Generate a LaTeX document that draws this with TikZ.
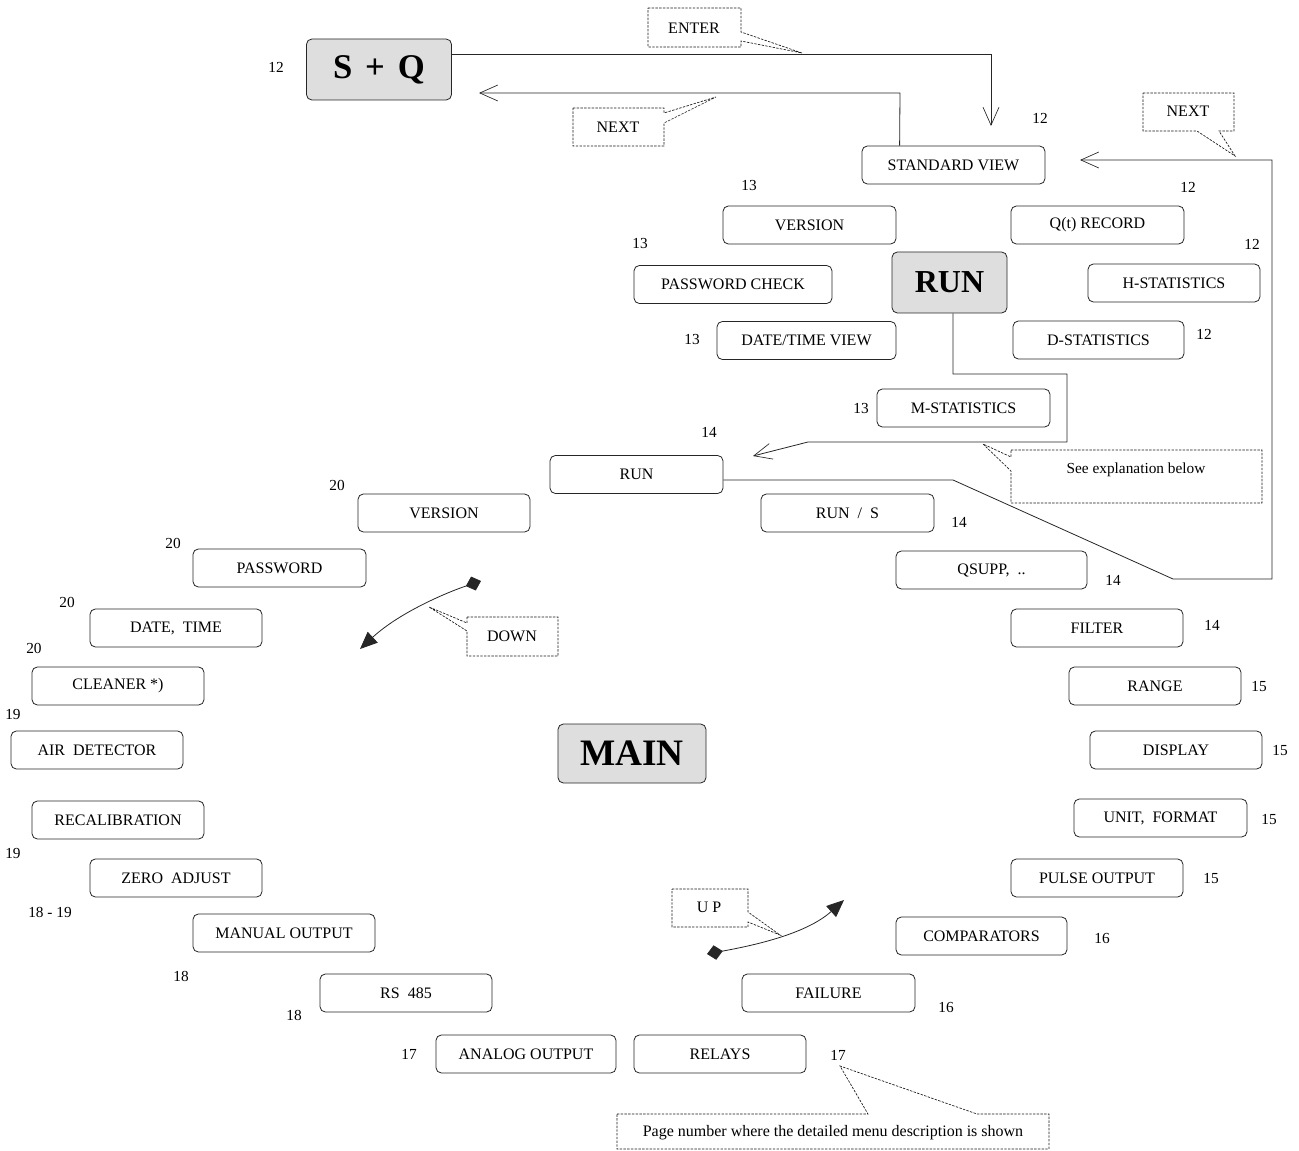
\documentclass[tikz,border=0pt]{standalone}
\usepackage{fontspec}
\setmainfont{Liberation Serif}
\usetikzlibrary{arrows.meta}
\begin{document}
\begin{tikzpicture}[x=0.75pt,y=-0.75pt,
  box/.style={draw=black!85, line width=0.6pt, rounded corners=4pt, minimum height=28.5pt, font=\fontsize{12}{14}\selectfont, inner sep=0pt},
  gbox/.style={box, fill=black!13, font=\fontsize{24}{28}\selectfont\bfseries, minimum height=45.75pt},
  w/.style={minimum width=#1*0.75pt},
  num/.style={font=\fontsize{11.5}{13}\selectfont, inner sep=0pt},
  note/.style={font=\fontsize{12}{14}\selectfont, inner sep=0pt},
  conn/.style={draw=black!85, line width=0.6pt},
  callout/.style={draw=black!90, line width=0.5pt, dash pattern=on 1.8pt off 1pt},
  barb/.style={-{Straight Barb[length=13.5pt,width=12pt,line width=0.5pt]}},
  swing/.style={conn, {Diamond[length=12pt,width=11pt]}-{Triangle[length=13pt,width=11pt]}}
]
\useasboundingbox (0,0) rectangle (1299,1151);

% gray main nodes
\node[gbox, w=145, font=\fontsize{26}{30}\selectfont\bfseries] (SQ) at (379,69.5) {S\hspace{0.12em} + \hspace{0.12em}Q};
\node[gbox, w=115] (RUNG) at (949.5,282.5) {RUN};
\node[gbox, w=148, minimum height=44.25pt, font=\fontsize{28}{32}\selectfont\bfseries] (MAIN) at (632,753.5) {MAIN};

% boxes
\node[box, w=183] (STD) at (953.5,165) {STANDARD VIEW};
\node[box, w=173] (VER1) at (809.5,225) {VERSION};
\node[box, w=173] (QREC) at (1097.5,225) {Q(t) RECORD};
\node[box, w=198] (PWC) at (733,284.5) {PASSWORD CHECK};
\node[box, w=172] (HSTAT) at (1174,283) {H-STATISTICS};
\node[box, w=179] (DTV) at (806.5,340.5) {DATE/TIME VIEW};
\node[box, w=171] (DSTAT) at (1098.5,340) {D-STATISTICS};
\node[box, w=173] (MSTAT) at (963.5,408) {M-STATISTICS};
\node[box, w=173] (RUN) at (636.5,474.5) {RUN};
\node[box, w=172] (VER2) at (444,513) {VERSION};
\node[box, w=173] (RUNS) at (847.5,513) {RUN~~/~~S};
\node[box, w=173] (PW) at (279.5,568) {PASSWORD};
\node[box, w=191] (QSUPP) at (991.5,570) {QSUPP,~~..};
\node[box, w=172] (DT) at (176,628) {DATE,~~TIME};
\node[box, w=172] (FILTER) at (1097,628) {FILTER};
\node[box, w=172] (CLEAN) at (118,686) {CLEANER *)};
\node[box, w=172] (RANGE) at (1155,686) {RANGE};
\node[box, w=172] (AIR) at (97,750) {AIR~~DETECTOR};
\node[box, w=172] (DISP) at (1176,750) {DISPLAY};
\node[box, w=172] (RECAL) at (118,820) {RECALIBRATION};
\node[box, w=173] (UNIT) at (1160.5,818) {UNIT,~~FORMAT};
\node[box, w=172] (ZERO) at (176,878) {ZERO~~ADJUST};
\node[box, w=172] (PULSE) at (1097,878) {PULSE OUTPUT};
\node[box, w=182] (MAN) at (284,933) {MANUAL OUTPUT};
\node[box, w=171] (COMP) at (981.5,936) {COMPARATORS};
\node[box, w=173] (FAIL) at (828.5,993) {FAILURE};
\node[box, w=172] (RS) at (406,993) {RS~~485};
\node[box, w=180] (ANA) at (526,1054) {ANALOG OUTPUT};
\node[box, w=172] (REL) at (720,1054) {RELAYS};

% page numbers
\node[num] (p1) at (276,67) {12};
\node[num] (p2) at (1040,118) {12};
\node[num] (p3) at (1188,187) {12};
\node[num] (p4) at (749,186) {13};
\node[num] (p5) at (640,244) {13};
\node[num] (p6) at (1252,244) {12};
\node[num] (p7) at (692,340) {13};
\node[num] (p8) at (1204,334) {12};
\node[num] (p9) at (861,408) {13};
\node[num] (p10) at (709,432) {14};
\node[num] (p11) at (337,485) {20};
\node[num] (p12) at (959,522) {14};
\node[num] (p13) at (173,543) {20};
\node[num] (p14) at (1113,580) {14};
\node[num] (p15) at (67,602) {20};
\node[num] (p16) at (1212,625) {14};
\node[num] (p17) at (34,648) {20};
\node[num] (p18) at (1259,687) {15};
\node[num] (p19) at (13,714) {19};
\node[num] (p20) at (1280,751) {15};
\node[num] (p21) at (1269,820) {15};
\node[num] (p22) at (13,853) {19};
\node[num] (p23) at (1211,879) {15};
\node[num] (p24) at (50,912) {18 - 19};
\node[num] (p25) at (1102,938) {16};
\node[num] (p26) at (181,976) {18};
\node[num] (p27) at (946,1007) {16};
\node[num] (p28) at (294,1015) {18};
\node[num] (p29) at (409,1054) {17};
\node[num] (p30) at (838,1055) {17};

% connector end points
\coordinate (enterTip) at (991,126);
\coordinate (nextTip) at (479,93);
\coordinate (runTip) at (753,456);
\coordinate (stdTip) at (1080,160);

% connectors
\draw[conn, barb] (SQ.east) ++(0,-15.5) -- (991,54) -- (enterTip);
\draw[conn, barb] (STD.north west) ++(38,0) -- (900,93) -- (nextTip);
\draw[conn, barb] (RUNG.south) ++(3.5,0) -- (953,374) -- (1067,374) -- (1067,442) -- (808,442) -- (runTip);
\draw[conn, barb] (RUN.east) ++(0,5.5) -- (953,480) -- (1173,579) -- (1272,579) -- (1272,160) -- (stdTip);

% swing arrows
\coordinate (downA) at (481,581);
\coordinate (downB) at (360,649);
\draw[swing] (downA) .. controls (448,592) and (400,612) .. (downB);
\coordinate (upA) at (707,954);
\coordinate (upB) at (844,900);
\draw[swing] (upA) .. controls (750,946) and (805,935) .. (upB);

% callouts
\draw[callout] (648,8) -- (741,8) -- (741,32) -- (802,53) -- (741,41) -- (741,47) -- (648,47) -- cycle;
\node[note] (enter) at (694,28) {ENTER};
\draw[callout] (573,108) -- (664,108) -- (664,113) -- (716,97) -- (664,123) -- (664,146) -- (573,146) -- cycle;
\node[note] (next1) at (618,127) {NEXT};
\draw[callout] (1143,93) -- (1234,93) -- (1234,131) -- (1219,131) -- (1235,156) -- (1197,131) -- (1143,131) -- cycle;
\node[note] (next2) at (1188,111) {NEXT};
\draw[callout] (1011,450) -- (1262,450) -- (1262,503) -- (1011,503) -- (1011,471) -- (983,444) -- (1011,457) -- cycle;
\node[note, font=\fontsize{11.5}{13}\selectfont] (expl) at (1136,470) {See explanation below};
\draw[callout] (467,617) -- (558,617) -- (558,656) -- (467,656) -- (467,631) -- (429,607) -- (467,623) -- cycle;
\node[note] (down) at (512,636) {DOWN};
\draw[callout] (672,889) -- (748,889) -- (748,912) -- (780,935) -- (748,922) -- (748,927) -- (672,927) -- cycle;
\node[note] (up) at (709,907) {U P};
\draw[callout] (617,1114) -- (868,1114) -- (840,1066) -- (977,1114) -- (1049,1114) -- (1049,1149) -- (617,1149) -- cycle;
\node[note] (pagenote) at (833,1133) {Page number where the detailed menu description is shown};
\end{tikzpicture}
\end{document}
